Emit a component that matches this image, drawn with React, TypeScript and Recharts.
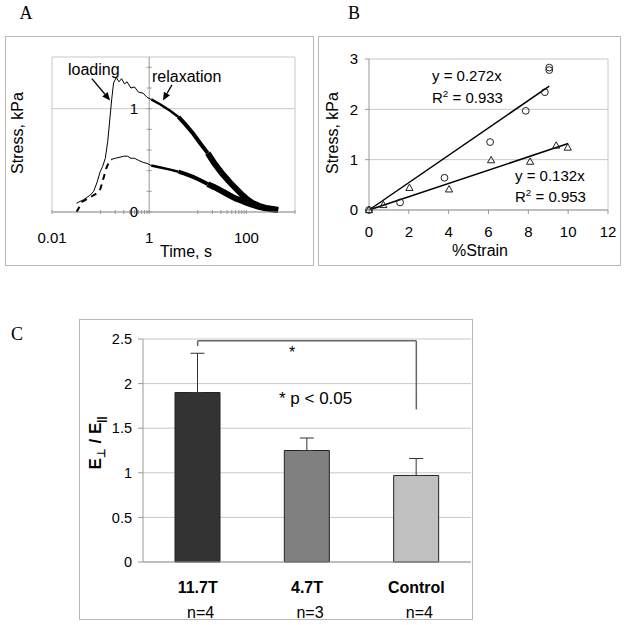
import React from 'react';
import {
  ComposedChart, BarChart, Line, Bar, Scatter, XAxis, YAxis, CartesianGrid,
  ReferenceLine, ReferenceDot, ReferenceArea, ErrorBar, Cell,
} from 'recharts';

const FONT = '"Liberation Sans", Arial, sans-serif';
const SERIF = '"Liberation Serif", "Times New Roman", serif';
const AXIS = '#999999';
const GRID = '#c8c8c8';
const BOX = '#b8b8b8';

// ---- Panel A: stress vs log time (upper and lower specimen)
const timeTicks = [0.01, 0.1, 0.2, 0.3, 0.4, 0.5, 0.6, 0.7, 0.8, 0.9, 1, 10, 20, 30, 40, 50, 60, 70, 80, 90, 100, 1000];
const timeLabels = [0.01, 1, 100];
const stressMinor = [0, 0.2, 0.4, 0.6, 0.8, 1, 1.2, 1.4];
const stressLabels = [0, 1];

const loadTop = [
  { t: 0.032, s: 0.085 }, { t: 0.045, s: 0.12 }, { t: 0.06, s: 0.16 }, { t: 0.072, s: 0.2 },
  { t: 0.085, s: 0.29 }, { t: 0.098, s: 0.39 }, { t: 0.11, s: 0.44 }, { t: 0.125, s: 0.52 },
  { t: 0.14, s: 0.68 }, { t: 0.155, s: 0.9 }, { t: 0.17, s: 1.1 }, { t: 0.185, s: 1.25 }, { t: 0.21, s: 1.3 },
];
const relaxTop1 = [
  { t: 0.21, s: 1.3 }, { t: 0.24, s: 1.26 }, { t: 0.27, s: 1.29 }, { t: 0.31, s: 1.24 }, { t: 0.35, s: 1.26 },
  { t: 0.42, s: 1.2 }, { t: 0.5, s: 1.21 }, { t: 0.6, s: 1.16 }, { t: 0.75, s: 1.15 }, { t: 0.9, s: 1.11 }, { t: 1.1, s: 1.09 },
];
const relaxTop2 = [{ t: 1.1, s: 1.09 }, { t: 1.7, s: 1.04 }, { t: 2.7, s: 0.98 }, { t: 4, s: 0.92 }];
const relaxTop3 = [{ t: 4, s: 0.92 }, { t: 5.5, s: 0.85 }, { t: 8, s: 0.76 }, { t: 11, s: 0.67 }, { t: 16, s: 0.57 }];
const relaxTop4 = [
  { t: 16, s: 0.57 }, { t: 22, s: 0.47 }, { t: 32, s: 0.37 }, { t: 45, s: 0.29 }, { t: 60, s: 0.23 }, { t: 80, s: 0.17 },
  { t: 100, s: 0.13 }, { t: 130, s: 0.09 }, { t: 180, s: 0.06 }, { t: 250, s: 0.04 }, { t: 350, s: 0.03 }, { t: 450, s: 0.02 },
];

const loadLow = [
  { t: 0.032, s: 0 }, { t: 0.042, s: 0.1 }, { t: 0.065, s: 0.15 }, { t: 0.09, s: 0.19 }, { t: 0.1, s: 0.23 },
  { t: 0.115, s: 0.33 }, { t: 0.13, s: 0.42 }, { t: 0.15, s: 0.49 }, { t: 0.17, s: 0.51 },
];
const relaxLow1 = [
  { t: 0.17, s: 0.51 }, { t: 0.2, s: 0.52 }, { t: 0.25, s: 0.53 }, { t: 0.3, s: 0.54 }, { t: 0.36, s: 0.54 },
  { t: 0.42, s: 0.52 }, { t: 0.5, s: 0.52 }, { t: 0.6, s: 0.5 }, { t: 0.75, s: 0.48 }, { t: 0.9, s: 0.47 }, { t: 1.1, s: 0.45 },
];
const relaxLow2 = [{ t: 1.1, s: 0.45 }, { t: 1.7, s: 0.43 }, { t: 2.7, s: 0.41 }, { t: 4, s: 0.39 }];
const relaxLow3 = [{ t: 4, s: 0.39 }, { t: 5.5, s: 0.37 }, { t: 8, s: 0.34 }, { t: 11, s: 0.31 }, { t: 16, s: 0.27 }];
const relaxLow4 = [
  { t: 16, s: 0.27 }, { t: 22, s: 0.24 }, { t: 32, s: 0.2 }, { t: 45, s: 0.16 }, { t: 60, s: 0.13 }, { t: 80, s: 0.11 },
  { t: 100, s: 0.09 }, { t: 130, s: 0.07 }, { t: 180, s: 0.05 }, { t: 250, s: 0.035 }, { t: 350, s: 0.025 }, { t: 450, s: 0.02 },
];

const loadingArrow = [{ t: 0.066, s: 1.29 }, { t: 0.157, s: 1.08 }];
const relaxArrow = [{ t: 2.94, s: 1.23 }, { t: 1.92, s: 1.08 }];

// ---- Panel B: stress vs strain
const strainTicks = [0, 2, 4, 6, 8, 10, 12];
const stressTicksB = [0, 1, 2, 3];
const circlePts = [
  { x: 0, y: 0 }, { x: 1.56, y: 0.15 }, { x: 3.79, y: 0.64 }, { x: 6.08, y: 1.35 },
  { x: 7.87, y: 1.97 }, { x: 8.83, y: 2.34 }, { x: 9.05, y: 2.78 }, { x: 9.05, y: 2.83 },
];
const trianglePts = [
  { x: 0, y: 0 }, { x: 0.72, y: 0.1 }, { x: 2.03, y: 0.44 }, { x: 4.02, y: 0.41 },
  { x: 6.13, y: 0.99 }, { x: 8.09, y: 0.96 }, { x: 9.4, y: 1.28 }, { x: 9.98, y: 1.24 },
];
const fitCircles = [{ x: 0, y: 0 }, { x: 9.05, y: 2.46 }];
const fitTriangles = [{ x: 0, y: 0 }, { x: 10, y: 1.32 }];

// ---- Panel C: modulus ratio
const groups = ['11.7T', '4.7T', 'Control'];
const ratios = [1.9, 1.25, 0.97];
const ratioErrUp = [0.44, 0.14, 0.19];
const sampleSizes = [4, 3, 4];
const ratioTicks = [0, 0.5, 1, 1.5, 2, 2.5];
const groupEdges = [0, 1, 2, 3];
const groupFills = ['#333333', '#808080', '#c0c0c0'];
const bracketTop = 2.48;
const bracketLeftEnd = 2.42;
const bracketRightEnd = 1.71;

const barData = groups.map((g, i) => ({ group: g, ratio: ratios[i], err: [0, ratioErrUp[i]] }));

const TimeTick = (props: any) => {
  const { x, y, payload } = props;
  return (
    <g>
      <line x1={x} x2={x} y1={y - 2} y2={y + 2} stroke={AXIS} />
      {timeLabels.includes(payload.value) && (
        <text x={x} y={y + 25} textAnchor="middle" dominantBaseline="central" fontSize={15} fill="#000">
          {payload.value}
        </text>
      )}
    </g>
  );
};

const GroupTick = (props: any) => {
  const { x, y, payload, index } = props;
  return (
    <g>
      <text x={x} y={y + 25} textAnchor="middle" dominantBaseline="central" fontSize={16} fontWeight={700} fill="#000">
        {payload.value}
      </text>
      <text x={x + 3} y={y + 50} textAnchor="middle" dominantBaseline="central" fontSize={16} fill="#000">
        {`n=${sampleSizes[index]}`}
      </text>
    </g>
  );
};

const arrowShape = (p: any) => {
  const { x1, y1, x2, y2 } = p;
  const a = Math.atan2(y2 - y1, x2 - x1);
  const len = 8;
  const half = 3.5;
  const bx = x2 - len * Math.cos(a);
  const by = y2 - len * Math.sin(a);
  const pts = `${x2},${y2} ${bx - half * Math.sin(a)},${by + half * Math.cos(a)} ${bx + half * Math.sin(a)},${by - half * Math.cos(a)}`;
  return (
    <g>
      <line x1={x1} y1={y1} x2={bx} y2={by} stroke="#000" strokeWidth={1.3} />
      <polygon points={pts} fill="#000" />
    </g>
  );
};

const yTickShape = (p: any) => (
  <line x1={p.cx - 2.5} x2={p.cx + 2.5} y1={p.cy} y2={p.cy} stroke={AXIS} />
);

const circleShape = (p: any) => (
  <circle cx={p.cx} cy={p.cy} r={3.4} fill="none" stroke="#222" strokeWidth={1} />
);
const triangleShape = (p: any) => (
  <polygon
    points={`${p.cx},${p.cy - 3.8} ${p.cx - 3.6},${p.cy + 2.6} ${p.cx + 3.6},${p.cy + 2.6}`}
    fill="none" stroke="#222" strokeWidth={1}
  />
);

const Txt = ({ x, y, size = 15, bold = false, center = false, family = FONT, children }: any) => (
  <div
    style={{
      position: 'absolute', left: x, top: y, fontSize: size, fontWeight: bold ? 700 : 400,
      fontFamily: family, whiteSpace: 'nowrap', lineHeight: 1, color: '#000',
      transform: center ? 'translate(-50%, -50%)' : 'translateY(-50%)',
    }}
  >
    {children}
  </div>
);

const VTxt = ({ x, y, size = 16, bold = false, children }: any) => (
  <div
    style={{
      position: 'absolute', left: x, top: y, fontSize: size, fontWeight: bold ? 700 : 400,
      fontFamily: FONT, whiteSpace: 'nowrap', lineHeight: 1, color: '#000',
      transform: 'translate(-50%, -50%) rotate(-90deg)',
    }}
  >
    {children}
  </div>
);

const Box = ({ left, top, width, height }: any) => (
  <div style={{ position: 'absolute', left, top, width, height, boxSizing: 'border-box', border: `1px solid ${BOX}` }} />
);

const sup = { fontSize: '0.65em', verticalAlign: '0.55em' } as React.CSSProperties;

export default function App() {
  return (
    <div style={{ position: 'absolute', left: 0, top: 0, width: 624, height: 625, background: '#fff', fontFamily: FONT, overflow: 'hidden' }}>
      {/* Panel A */}
      <Txt x={26} y={13} size={18} family={SERIF} center>A</Txt>
      <Box left={5} top={36} width={309} height={230} />
      <div style={{ position: 'absolute', left: 5, top: 36 }}>
        <ComposedChart width={308} height={229} margin={{ top: 21, right: 18, bottom: 0, left: 47 }}>
          <XAxis
            dataKey="t" type="number" scale="log" domain={[0.01, 1000]} allowDataOverflow
            ticks={timeTicks} interval={0} height={53} tickSize={0} tickMargin={0}
            tickLine={false} axisLine={{ stroke: AXIS }} tick={<TimeTick />}
          />
          <YAxis type="number" domain={[0, 1.5]} hide />
          <ReferenceArea x1={0.01} x2={1000} y1={0} y2={1.5} fill="none" stroke={GRID} />
          <ReferenceLine y={1} stroke={GRID} />
          <ReferenceLine x={1} stroke={AXIS} />
          {stressMinor.map((v) => (
            <ReferenceDot key={`m${v}`} x={1} y={v} r={0} shape={yTickShape} />
          ))}
          {stressLabels.map((v) => (
            <ReferenceDot
              key={`l${v}`} x={1} y={v} r={0} fill="none" stroke="none"
              label={{ value: String(v), position: 'left', offset: 11, fill: '#000', fontSize: 15 }}
            />
          ))}
          <Line data={loadTop} dataKey="s" stroke="#000" strokeWidth={1} dot={false} isAnimationActive={false} />
          <Line data={relaxTop1} dataKey="s" stroke="#000" strokeWidth={1} dot={false} isAnimationActive={false} />
          <Line data={relaxTop2} dataKey="s" stroke="#000" strokeWidth={2.5} dot={false} isAnimationActive={false} />
          <Line data={relaxTop3} dataKey="s" stroke="#000" strokeWidth={4} dot={false} isAnimationActive={false} />
          <Line data={relaxTop4} dataKey="s" stroke="#000" strokeWidth={6} dot={false} isAnimationActive={false} />
          <Line data={loadLow} dataKey="s" stroke="#000" strokeWidth={2} strokeDasharray="6 5" dot={false} isAnimationActive={false} />
          <Line data={relaxLow1} dataKey="s" stroke="#000" strokeWidth={1} dot={false} isAnimationActive={false} />
          <Line data={relaxLow2} dataKey="s" stroke="#000" strokeWidth={2.5} dot={false} isAnimationActive={false} />
          <Line data={relaxLow3} dataKey="s" stroke="#000" strokeWidth={4} dot={false} isAnimationActive={false} />
          <Line data={relaxLow4} dataKey="s" stroke="#000" strokeWidth={6} dot={false} isAnimationActive={false} />
          <ReferenceLine
            segment={[{ x: loadingArrow[0].t, y: loadingArrow[0].s }, { x: loadingArrow[1].t, y: loadingArrow[1].s }]}
            shape={arrowShape}
          />
          <ReferenceLine
            segment={[{ x: relaxArrow[0].t, y: relaxArrow[0].s }, { x: relaxArrow[1].t, y: relaxArrow[1].s }]}
            shape={arrowShape}
          />
        </ComposedChart>
      </div>
      <Txt x={68} y={70} size={16}>loading</Txt>
      <Txt x={152} y={77} size={16}>relaxation</Txt>
      <Txt x={186} y={252} size={16} center>Time, s</Txt>
      <VTxt x={18} y={133} size={16}>Stress, kPa</VTxt>

      {/* Panel B */}
      <Txt x={354} y={13} size={18} family={SERIF} center>B</Txt>
      <Box left={318} top={36} width={303} height={230} />
      <div style={{ position: 'absolute', left: 318, top: 36 }}>
        <ComposedChart width={302} height={229} margin={{ top: 23, right: 12, bottom: 0, left: 0 }}>
          <CartesianGrid vertical={false} stroke={GRID} />
          <XAxis
            dataKey="x" type="number" domain={[0, 12]} ticks={strainTicks} interval={0} height={55}
            tickSize={4} tickMargin={12} axisLine={{ stroke: AXIS }} tickLine={{ stroke: AXIS }}
            tick={{ fill: '#000', fontSize: 15 }}
          />
          <YAxis
            type="number" domain={[0, 3]} ticks={stressTicksB} width={51}
            tickSize={4} tickMargin={7} axisLine={{ stroke: AXIS }} tickLine={{ stroke: AXIS }}
            tick={{ fill: '#000', fontSize: 15 }}
          />
          <ReferenceLine x={12} stroke={GRID} />
          <Line data={fitCircles} dataKey="y" stroke="#000" strokeWidth={1.5} dot={false} isAnimationActive={false} />
          <Line data={fitTriangles} dataKey="y" stroke="#000" strokeWidth={1.5} dot={false} isAnimationActive={false} />
          <Scatter data={circlePts} dataKey="y" shape={circleShape} isAnimationActive={false} />
          <Scatter data={trianglePts} dataKey="y" shape={triangleShape} isAnimationActive={false} />
        </ComposedChart>
      </div>
      <Txt x={432} y={75} size={15}>y = 0.272x</Txt>
      <Txt x={432} y={97} size={15}>R<span style={sup}>2</span> = 0.933</Txt>
      <Txt x={515} y={175} size={15}>y = 0.132x</Txt>
      <Txt x={515} y={196} size={15}>R<span style={sup}>2</span> = 0.953</Txt>
      <Txt x={480} y={251} size={16} center>%Strain</Txt>
      <VTxt x={333} y={133} size={16}>Stress, kPa</VTxt>

      {/* Panel C */}
      <Txt x={17} y={334} size={18} family={SERIF} center>C</Txt>
      <Box left={79} top={319} width={394} height={301} />
      <div style={{ position: 'absolute', left: 79, top: 319 }}>
        <BarChart width={393} height={300} data={barData} margin={{ top: 20, right: 1, bottom: 55, left: 0 }}>
          <CartesianGrid vertical={false} stroke={GRID} />
          <XAxis
            dataKey="group" height={1} tickSize={0} tickMargin={0} tickLine={false}
            axisLine={{ stroke: AXIS }} tick={<GroupTick />} interval={0}
          />
          <XAxis
            xAxisId="edges" type="number" domain={[0, 3]} ticks={groupEdges} height={1}
            tick={false} axisLine={false} tickSize={5} tickLine={{ stroke: AXIS }}
          />
          <YAxis
            type="number" domain={[0, 2.5]} ticks={ratioTicks} width={64}
            tickSize={5} tickMargin={6} axisLine={{ stroke: AXIS }} tickLine={{ stroke: AXIS }}
            tick={{ fill: '#000', fontSize: 14.5 }}
          />
          <Bar dataKey="ratio" barSize={45} stroke="#222" strokeWidth={1} isAnimationActive={false}>
            {barData.map((d, i) => (
              <Cell key={d.group} fill={groupFills[i]} />
            ))}
            <ErrorBar dataKey="err" width={7} stroke="#333" strokeWidth={1} direction="y" />
          </Bar>
          <ReferenceLine
            segment={[{ x: groups[0], y: bracketTop }, { x: groups[2], y: bracketTop }]}
            stroke="#666" strokeWidth={1.5}
          />
          <ReferenceLine
            segment={[{ x: groups[0], y: bracketTop }, { x: groups[0], y: bracketLeftEnd }]}
            stroke="#666" strokeWidth={1.5}
          />
          <ReferenceLine
            segment={[{ x: groups[2], y: bracketTop }, { x: groups[2], y: bracketRightEnd }]}
            stroke="#666" strokeWidth={1.5}
          />
        </BarChart>
      </div>
      <Txt x={292} y={353} size={16} center>*</Txt>
      <Txt x={279} y={398} size={17}>* p &lt; 0.05</Txt>
      <VTxt x={97} y={443} size={17} bold>
        E<sub style={{ fontSize: '0.65em' }}>⊥</sub> / E<sub style={{ fontSize: '0.65em' }}>||</sub>
      </VTxt>
    </div>
  );
}
